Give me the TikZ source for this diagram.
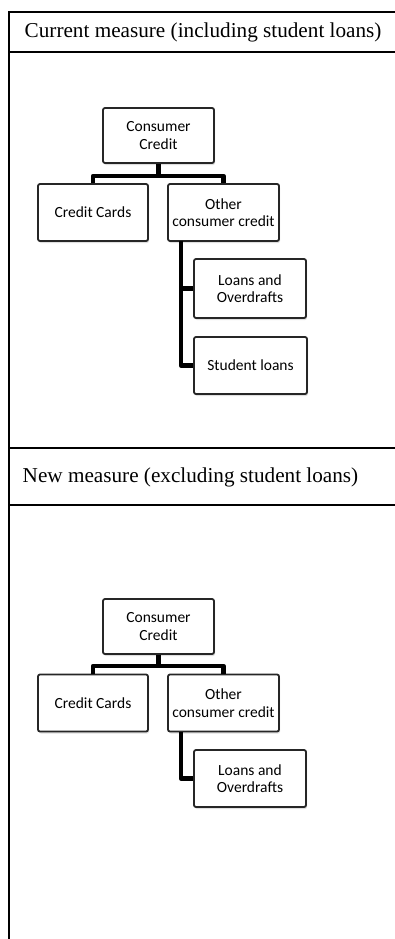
\documentclass[tikz,border=0pt]{standalone}
\usepackage{fontspec}
\setmainfont{Liberation Serif}
\newfontfamily\boxfont{Carlito}
\usetikzlibrary{shadows}
\begin{document}
\begin{tikzpicture}[x=1pt,y=-1pt,
  frameline/.style={line width=2.6pt},
  hdr/.style={anchor=west,inner sep=0pt,font=\fontsize{21.2}{24}\selectfont},
  orgbox/.style={draw=black!85,line width=1.8pt,rounded corners=2pt,fill=white,
    align=center,inner sep=1pt,font=\boxfont\fontsize{15.5}{17.5}\selectfont,
    drop shadow={shadow xshift=1pt,shadow yshift=-2pt,opacity=0.25}},
  conn/.style={line width=4.5pt,line join=round}]
\useasboundingbox (0,0) rectangle (395,939);
\fill[white] (0,0) rectangle (395,939);
% frame
\draw[frameline] (9,939) -- (9,12) -- (395,12);
\draw[frameline] (9,52) -- (395,52);
\draw[frameline] (9,448) -- (395,448);
\draw[frameline] (9,505) -- (395,505);
\node[hdr] (h1) at (24.5,32) {Current measure (including student loans)};
\node[hdr] (h2) at (22.5,477) {New measure (excluding student loans)};
% section 1
\node[orgbox,minimum width=111,minimum height=55] (cc1) at (158.5,135.5) {Consumer\\Credit};
\node[orgbox,minimum width=110,minimum height=57] (card1) at (93,212.5) {Credit Cards};
\node[orgbox,minimum width=111,minimum height=57] (other1) at (223.5,212.5) {Other\\consumer credit};
\node[orgbox,minimum width=112,minimum height=59] (loans1) at (250,288.5) {Loans and\\Overdrafts};
\node[orgbox,minimum width=113,minimum height=57] (stud1) at (250.5,365.5) {Student loans};
\coordinate (bar1) at (158.5,176);
\coordinate (trunk1) at (181,241);
\draw[conn] (cc1.south) -- (bar1);
\draw[conn] (card1.north) |- (bar1) -| (other1.north);
\draw[conn] (trunk1) |- (stud1.west);
\draw[conn] (loans1.west) -- (loans1.west -| trunk1);
% section 2
\node[orgbox,minimum width=111,minimum height=55] (cc2) at (158.5,626.5) {Consumer\\Credit};
\node[orgbox,minimum width=110,minimum height=57] (card2) at (93,703) {Credit Cards};
\node[orgbox,minimum width=111,minimum height=57] (other2) at (223.5,703) {Other\\consumer credit};
\node[orgbox,minimum width=112,minimum height=57] (loans2) at (250,778.5) {Loans and\\Overdrafts};
\coordinate (bar2) at (158.5,666);
\coordinate (trunk2) at (181,731.5);
\draw[conn] (cc2.south) -- (bar2);
\draw[conn] (card2.north) |- (bar2) -| (other2.north);
\draw[conn] (trunk2) |- (loans2.west);
\end{tikzpicture}
\end{document}
